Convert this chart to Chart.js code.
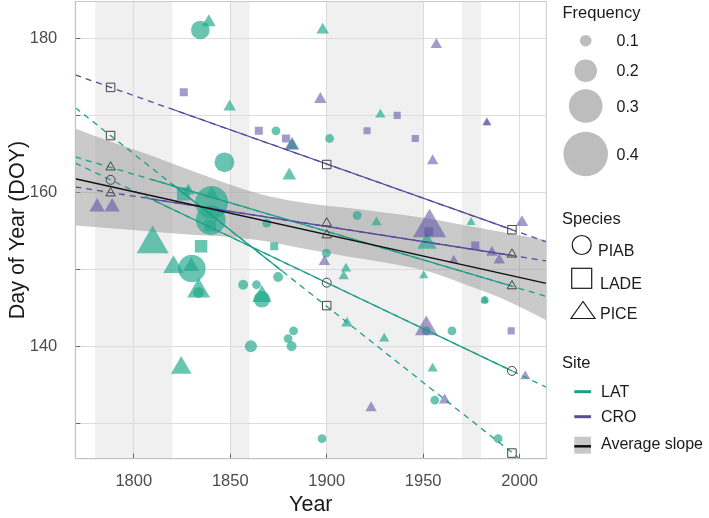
<!DOCTYPE html>
<html>
<head>
<meta charset="utf-8">
<script src="https://cdn.jsdelivr.net/npm/chart.js@4.4.1/dist/chart.umd.min.js"></script>
<style>
  html, body { margin: 0; padding: 0; background: #fff; }
  #wrap { position: relative; width: 709px; height: 518px; }
  #legend { position: absolute; left: 0; top: 0; pointer-events: none; }
  #legend text { font-family: "Liberation Sans", Arial, Helvetica, sans-serif; fill: #1a1a1a; }
</style>
</head>
<body>
<div id="wrap">
  <canvas id="chart" width="709" height="518"></canvas>
  <svg id="legend" width="709" height="518"></svg>
</div>
<script>
// ---- 1. AXES & PERIODS ---------------------------------------------
const xTicks = [1800, 1850, 1900, 1950, 2000];
const yTicks = [130, 140, 150, 160, 170, 180];
const yTickLabels = [140, 160, 180];

// grey periods in the background
const periodStart = [1780, 1850, 1900, 1970];
const periodEnd = [1820, 1860, 1950, 1980];

// LAT site
const latPiabYear = [1834.5, 1847.0, 1840.4, 1839.9, 1830.1, 1833.6, 1856.7, 1863.6, 1874.8, 1866.4, 1882.8, 1880.0, 1881.8, 1860.7, 1868.9, 1873.7, 1901.5, 1915.8, 1899.8, 1897.6, 1951.6, 1964.9, 1956.0, 1988.8, 1981.9];
const latPiabDoy = [181.1, 163.9, 158.7, 156.4, 150.1, 147.0, 148.0, 148.0, 149.0, 146.1, 142.0, 141.0, 140.0, 140.0, 156.0, 168.0, 167.0, 157.0, 152.1, 128.0, 142.0, 142.0, 133.0, 128.0, 146.0];
const latPiabFreq = [0.17, 0.18, 0.30, 0.27, 0.25, 0.10, 0.09, 0.08, 0.09, 0.15, 0.08, 0.08, 0.09, 0.11, 0.08, 0.08, 0.08, 0.08, 0.08, 0.08, 0.08, 0.08, 0.08, 0.08, 0.07];

const latLadeYear = [1825.7, 1839.6, 1834.9, 1872.8];
const latLadeDoy = [159.8, 155.7, 153.0, 153.0];
const latLadeFreq = [0.145, 0.13, 0.14, 0.09];

const latPiceYear = [1838.9, 1849.7, 1828.3, 1840.4, 1809.8, 1820.6, 1829.8, 1833.6, 1824.6, 1897.9, 1882.0, 1880.6, 1927.8, 1925.8, 1910.0, 1908.8, 1910.5, 1929.8, 1952.0, 1950.3, 1974.8, 1954.9, 1981.9, 1866.4];
const latPiceDoy = [182.1, 171.1, 160.2, 159.8, 153.3, 150.3, 150.4, 147.2, 137.2, 181.1, 166.1, 162.2, 170.1, 156.1, 150.1, 149.1, 143.0, 141.0, 153.4, 149.2, 156.1, 137.1, 146.0, 146.5];
const latPiceFreq = [0.12, 0.11, 0.11, 0.12, 0.28, 0.18, 0.14, 0.20, 0.18, 0.11, 0.13, 0.12, 0.09, 0.09, 0.09, 0.09, 0.10, 0.09, 0.17, 0.08, 0.08, 0.09, 0.07, 0.17];

// CRO site
const croLadeYear = [1825.9, 1864.8, 1878.9, 1920.9, 1936.5, 1945.9, 1952.8, 1977.0, 1995.6];
const croLadeDoy = [173.0, 168.0, 167.0, 168.0, 170.0, 167.0, 154.9, 153.1, 142.0];
const croLadeFreq = [0.09, 0.09, 0.09, 0.08, 0.08, 0.08, 0.10, 0.09, 0.08];

const croPiceYear = [1781.0, 1788.8, 1896.7, 1882.0, 1956.8, 1983.0, 1983.0, 1954.9, 2001.2, 1953.3, 1985.6, 1989.4, 1965.8, 1898.8, 1951.6, 1923.0, 1961.1, 2002.9];
const croPiceDoy = [158.1, 158.1, 172.1, 166.1, 179.2, 169.1, 169.0, 164.1, 156.1, 155.4, 152.2, 151.2, 151.2, 151.0, 142.3, 132.0, 133.0, 136.1];
const croPiceFreq = [0.135, 0.135, 0.11, 0.11, 0.10, 0.08, 0.07, 0.10, 0.11, 0.29, 0.10, 0.10, 0.08, 0.10, 0.20, 0.10, 0.10, 0.09];

// ---- 3. FITTED SLOPES ----------------------------------------------
const edgeYear = [1769.7, 2013.8];
// dashed, whole panel width
const croLadeFit = [175.27, 153.57];
const croPiceFit = [160.7, 151.1];
const latPiabFit = [163.81, 134.69];
const latLadeFit = [171.0, 122.67];
const latPiceFit = [164.6, 146.49];
// solid part, over the years with data
const croLadeSolidYear = [1820, 1996], croLadeSolid = [170.8, 155.15];
const croPiceSolidYear = [1807, 1996], croPiceSolid = [159.23, 151.8];
const latPiabSolidYear = [1810, 1996], latPiabSolid = [159.01, 136.82];
const latLadeSolidYear = [1820, 1877], latLadeSolid = [161.04, 149.76];
const latPiceSolidYear = [1809, 1996], latPiceSolid = [161.68, 147.81];

// predicted values marked with open symbols
const markYear = [1788, 1900, 1996];
const markCroLade = [173.64, 163.62, 155.15];
const markCroPice = [159.9, 156.0, 151.95];
const markLatPiab = [161.63, 148.27, 136.81];
const markLatLade = [167.38, 145.29, 126.13];
const markLatPice = [163.27, 154.45, 147.83];

// average slope and its band
const avgDoy = [161.76, 148.18];
const bandYear = [1769.7, 1790, 1810, 1830, 1850, 1870, 1890, 1910, 1930, 1950, 1970, 1990, 2013.8];
const bandUpper = [168.3, 166.4, 164.7, 162.8, 161.0, 159.5, 158.6, 158.0, 157.4, 156.7, 155.8, 154.9, 153.8];
const bandLower = [155.7, 155.3, 154.9, 154.5, 154.2, 153.6, 152.6, 151.7, 150.9, 149.9, 148.2, 146.3, 143.4];

// legend
const freqLegend = [0.1, 0.2, 0.3, 0.4];

// ---- 4. STYLE ------------------------------------------------------
const FONT = '"Liberation Sans", Arial, Helvetica, sans-serif';
Chart.defaults.font.family = FONT;

const tealPoint = 'rgba(34,170,140,0.68)';
const purplePoint = 'rgba(95,85,165,0.58)';
const tealLine = '#1f9e89';
const purpleLine = '#564b9d';

const sizeScale = { circle: 55, rect: 63, triangle: 66 };

function pts(xs, ys) {
  return xs.map((x, i) => ({ x: x, y: ys[i] }));
}

function obsSet(xs, ys, fs, style, color) {
  return {
    data: pts(xs, ys),
    showLine: false,
    pointStyle: style,
    pointRadius: fs.map(f => f * sizeScale[style]),
    pointBackgroundColor: color,
    pointBorderWidth: 0,
    order: 5
  };
}

function lineSet(xs, ys, color, dashed) {
  return {
    data: pts(xs, ys),
    showLine: true,
    borderColor: color,
    borderWidth: 1.3,
    borderDash: dashed ? [6, 5] : [],
    pointRadius: 0,
    fill: false,
    tension: 0,
    order: 2
  };
}

function markSet(ys, style, radius) {
  return {
    data: pts(markYear, ys),
    showLine: false,
    pointStyle: style,
    pointRadius: radius,
    pointBackgroundColor: 'rgba(0,0,0,0)',
    pointBorderColor: '#444',
    pointBorderWidth: 1,
    order: 0
  };
}

// ---- 5. PLUGINS ----------------------------------------------------
const periodShading = {
  id: 'periodShading',
  beforeDraw(chart) {
    const { ctx, chartArea: a, scales: { x } } = chart;
    ctx.save();
    ctx.fillStyle = '#f0f0f0';
    periodStart.forEach((s, i) => {
      const x0 = x.getPixelForValue(s);
      const x1 = x.getPixelForValue(periodEnd[i]);
      ctx.fillRect(x0, a.top, x1 - x0, a.bottom - a.top);
    });
    ctx.restore();
  }
};

const panelBorder = {
  id: 'panelBorder',
  afterDatasetsDraw(chart) {
    const { ctx, chartArea: a } = chart;
    ctx.save();
    ctx.strokeStyle = '#c8c8c8';
    ctx.lineWidth = 1;
    ctx.strokeRect(a.left, a.top, a.right - a.left, a.bottom - a.top);
    ctx.restore();
  }
};

// fixed axis boxes so the panel sits where it does in the figure
function fixBox(s, size) {
  if (s.isHorizontal()) s.height = size; else s.width = size;
  s.paddingTop = 0;
  s.paddingBottom = 0;
  s.paddingLeft = 0;
  s.paddingRight = 0;
}

// ---- 6. CHART ------------------------------------------------------
const datasets = [
  {
    data: pts(bandYear, bandUpper), showLine: true, borderColor: 'rgba(0,0,0,0)', borderWidth: 0,
    pointRadius: 0, fill: '+1', backgroundColor: 'rgba(150,150,150,0.5)',
    cubicInterpolationMode: 'monotone', order: 10
  },
  {
    data: pts(bandYear, bandLower), showLine: true, borderColor: 'rgba(0,0,0,0)', borderWidth: 0,
    pointRadius: 0, fill: false, cubicInterpolationMode: 'monotone', order: 10
  },
  obsSet(croLadeYear, croLadeDoy, croLadeFreq, 'rect', purplePoint),
  obsSet(croPiceYear, croPiceDoy, croPiceFreq, 'triangle', purplePoint),
  obsSet(latPiabYear, latPiabDoy, latPiabFreq, 'circle', tealPoint),
  obsSet(latLadeYear, latLadeDoy, latLadeFreq, 'rect', tealPoint),
  obsSet(latPiceYear, latPiceDoy, latPiceFreq, 'triangle', tealPoint),

  lineSet(edgeYear, croLadeFit, purpleLine, true),
  lineSet(edgeYear, croPiceFit, purpleLine, true),
  lineSet(edgeYear, latPiabFit, tealLine, true),
  lineSet(edgeYear, latLadeFit, tealLine, true),
  lineSet(edgeYear, latPiceFit, tealLine, true),
  lineSet(croLadeSolidYear, croLadeSolid, purpleLine, false),
  lineSet(croPiceSolidYear, croPiceSolid, purpleLine, false),
  lineSet(latPiabSolidYear, latPiabSolid, tealLine, false),
  lineSet(latLadeSolidYear, latLadeSolid, tealLine, false),
  lineSet(latPiceSolidYear, latPiceSolid, tealLine, false),
  Object.assign(lineSet(edgeYear, avgDoy, '#111', false), { borderWidth: 1.5, order: 1 }),

  markSet(markCroLade, 'rect', 6),
  markSet(markLatLade, 'rect', 6),
  markSet(markCroPice, 'triangle', 5.5),
  markSet(markLatPice, 'triangle', 5.5),
  markSet(markLatPiab, 'circle', 4.5)
];

new Chart(document.getElementById('chart'), {
  type: 'line',
  data: { datasets: datasets },
  options: {
    responsive: false,
    animation: false,
    events: [],
    layout: { autoPadding: false, padding: { left: 0, right: 162.7, top: 1.5, bottom: 0 } },
    plugins: { legend: { display: false }, tooltip: { enabled: false } },
    scales: {
      x: {
        type: 'linear',
        min: 1769.7,
        max: 2013.8,
        afterBuildTicks: s => { s.ticks = xTicks.map(v => ({ value: v })); },
        afterFit: s => fixBox(s, 59.3),
        grid: { color: '#dcdcdc', lineWidth: 1, tickLength: -5, tickColor: '#666' },
        border: { display: true, color: '#a8a8a8' },
        ticks: {
          color: '#4d4d4d', font: { size: 16.5 }, padding: 18, maxRotation: 0,
          callback: v => String(v)
        },
        title: {
          display: true, text: 'Year', color: '#1a1a1a',
          font: { size: 21.5 }, padding: { top: 0, bottom: 0 }
        }
      },
      y: {
        min: 125.4,
        max: 184.8,
        afterBuildTicks: s => { s.ticks = yTicks.map(v => ({ value: v })); },
        afterFit: s => fixBox(s, 75.3),
        grid: { color: '#dcdcdc', lineWidth: 1, tickLength: -5, tickColor: '#666' },
        border: { display: true, color: '#a8a8a8' },
        ticks: {
          color: '#4d4d4d', font: { size: 16.5 }, padding: 23,
          callback: v => (yTickLabels.includes(v) ? String(v) : '')
        },
        title: {
          display: true, text: 'Day of Year (DOY)', color: '#1a1a1a',
          font: { size: 21.5 }, padding: { top: 5, bottom: 0 }
        }
      }
    }
  },
  plugins: [periodShading, panelBorder]
});

// ---- 7. LEGEND (svg overlay) ---------------------------------------
const svg = document.getElementById('legend');
const NS = 'http://www.w3.org/2000/svg';

function add(tag, attrs, text) {
  const el = document.createElementNS(NS, tag);
  for (const k in attrs) el.setAttribute(k, attrs[k]);
  if (text !== undefined) el.textContent = text;
  svg.appendChild(el);
  return el;
}

function label(x, y, text, size) {
  add('text', { x: x, y: y, 'font-size': size, 'dominant-baseline': 'central' }, text);
}

label(562.5, 12, 'Frequency', 16.5);
const freqY = [40.7, 70.7, 106, 154];
freqLegend.forEach((f, i) => {
  add('circle', { cx: 585.7, cy: freqY[i], r: f * sizeScale.circle + 0.3, fill: '#bdbdbd' });
  label(616.5, freqY[i], String(f), 16);
});

label(562, 217.5, 'Species', 16.5);
add('circle', { cx: 581.7, cy: 245, r: 9.5, fill: 'none', stroke: '#1a1a1a', 'stroke-width': 1.2 });
label(598, 250, 'PIAB', 16);
add('rect', { x: 571.7, y: 268.3, width: 20, height: 20, fill: 'none', stroke: '#1a1a1a', 'stroke-width': 1.2 });
label(600, 283, 'LADE', 16);
add('polygon', { points: '583,301.5 571,318.5 595,318.5', fill: 'none', stroke: '#1a1a1a', 'stroke-width': 1.2 });
label(600, 313, 'PICE', 16);

label(562, 361.7, 'Site', 16.5);
add('line', { x1: 574.3, x2: 591, y1: 391.7, y2: 391.7, stroke: tealLine, 'stroke-width': 3 });
label(601, 391.7, 'LAT', 16);
add('line', { x1: 574.3, x2: 591, y1: 416.7, y2: 416.7, stroke: purpleLine, 'stroke-width': 3 });
label(601, 416.7, 'CRO', 16);
add('rect', { x: 574.3, y: 436.7, width: 16.7, height: 17, fill: '#c8c8c8' });
add('line', { x1: 574.3, x2: 591, y1: 446.3, y2: 446.3, stroke: '#111', 'stroke-width': 2.5 });
label(601, 443.3, 'Average slope', 16);
</script>
</body>
</html>
